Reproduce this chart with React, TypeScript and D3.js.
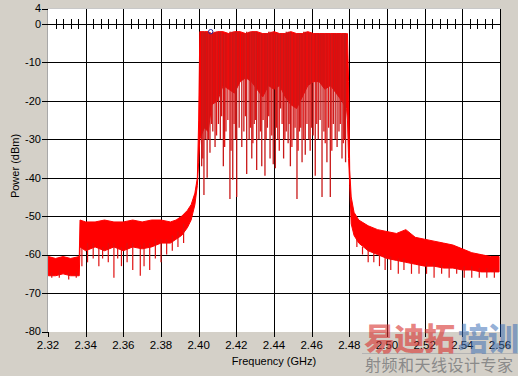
import React from "react";
import * as d3 from "d3";

const W = 518;
const H = 376;

const yTicks = [4, 0, -10, -20, -30, -40, -50, -60, -70, -80];
const xTicks = [2.32, 2.34, 2.36, 2.38, 2.4, 2.42, 2.44, 2.46, 2.48, 2.5, 2.52, 2.54, 2.56];
const xLabels = ["2.32", "2.34", "2.36", "2.38", "2.40", "2.42", "2.44", "2.46", "2.48", "2.50", "2.52", "2.54", "2.56"];
const hGrid = [0, -10, -20, -30, -40, -50, -60, -70];

// envelope of the spectrum (GHz, dBm)
const envFreq = [
  2.3202, 2.324, 2.328, 2.332, 2.3366, 2.337, 2.34, 2.345, 2.35, 2.355, 2.36, 2.365, 2.37, 2.375,
  2.38, 2.385, 2.388, 2.391, 2.394, 2.396, 2.398, 2.3993, 2.4, 2.4006, 2.403, 2.405, 2.407, 2.41,
  2.413, 2.416, 2.419, 2.422, 2.425, 2.428, 2.431, 2.434, 2.437, 2.44, 2.443, 2.446, 2.449, 2.452,
  2.455, 2.458, 2.461, 2.464, 2.467, 2.47, 2.473, 2.476, 2.4785, 2.479, 2.4796, 2.4802, 2.481,
  2.4825, 2.485, 2.49, 2.495, 2.5, 2.505, 2.51, 2.515, 2.52, 2.525, 2.53, 2.535, 2.54, 2.545,
  2.55, 2.555, 2.5595,
];
const envUpper = [
  -60.5, -61, -60.5, -61, -60.5, -51, -51.5, -51.5, -51, -51.5, -51.5, -51, -51.5, -51,
  -51, -51.5, -51, -50, -48.5, -47, -44, -40, -25, -2, -2, -2, -2.5, -2,
  -2, -2.5, -2, -2, -2.5, -2, -2, -2.5, -2.5, -2, -2.5, -2.5, -2, -2.5,
  -2.5, -2, -2.5, -2.5, -2.5, -2.5, -2.5, -2.5, -2.5, -2.5, -15, -38, -45,
  -49, -51, -52.5, -53.5, -54, -54.5, -53.5, -55.5, -56, -56.5, -57, -57.5, -58.5, -59.5,
  -60, -60.5, -60.5,
];
const envLower = [
  -65.5, -65.5, -65, -65.5, -65.5, -58, -59, -58, -59, -58, -59, -58, -58.5, -58,
  -57, -57, -56, -55, -53, -51, -47, -42, -36, -30, -27, -28, -21, -20,
  -16, -17, -18, -15, -14, -15, -17, -19, -16, -17, -16, -19, -21, -22,
  -19, -16, -15, -15, -17, -16, -18, -20, -22, -25, -35, -42, -52,
  -55, -57, -59, -60, -61, -61.5, -62, -62.5, -63, -63, -63.5, -63.5, -64, -64,
  -64.5, -64.5, -64.5,
];

// deep dips inside the channel (GHz, dBm)
const dipFreq = [
  2.4016, 2.4028, 2.4035, 2.4045, 2.406, 2.4075, 2.4087, 2.4105, 2.4115, 2.4131, 2.4145, 2.4166,
  2.4181, 2.4195, 2.4202, 2.4215, 2.4229, 2.424, 2.4255, 2.4268, 2.4282, 2.4295, 2.4308, 2.432,
  2.4335, 2.4352, 2.4365, 2.4379, 2.4396, 2.4407, 2.442, 2.4435, 2.4451, 2.4465, 2.4475, 2.4487,
  2.4505, 2.4522, 2.4535, 2.4549, 2.4566, 2.4585, 2.46, 2.4619, 2.4635, 2.4645, 2.4655, 2.4665,
  2.4681, 2.4699, 2.4715, 2.4725, 2.4735, 2.4745, 2.4761, 2.4775, 2.478,
];
const dipDb = [
  -37, -44.5, -30, -40, -33.5, -28, -32, -26, -30, -37, -28, -45.5,
  -40.5, -30, -45, -27, -32, -28, -39, -30, -35, -26, -38, -30,
  -37, -39.5, -27, -35, -36.5, -37.5, -30, -22, -35, -28, -31, -37,
  -30, -45.5, -28, -36, -34, -30, -27, -39.5, -30, -25, -45, -28,
  -36, -45, -26, -30, -32, -28, -35, -30, -36,
];

// shallower dips inside the channel (GHz, dBm)
const minorDipFreq = [
  2.4022, 2.4052, 2.4068, 2.4095, 2.4122, 2.4138, 2.4155, 2.4172, 2.4188, 2.4248, 2.4275, 2.4288,
  2.4302, 2.4328, 2.4342, 2.4358, 2.4372, 2.4388, 2.4413, 2.4428, 2.4443, 2.4458, 2.448, 2.4495,
  2.4512, 2.4528, 2.4542, 2.4558, 2.4575, 2.4592, 2.4608, 2.4627, 2.4672, 2.469, 2.4707, 2.4752,
  2.4768,
];
const minorDipDb = [
  -35, -30, -26, -29, -24, -32, -25, -33, -26, -24, -27, -31,
  -25, -28, -25, -30, -24, -29, -27, -33, -26, -30, -26, -32,
  -27, -33, -27, -30, -26, -33, -29, -26, -31, -27, -33, -26,
  -31,
];

// dips below the shoulders (GHz, dBm)
const shoulderDipFreq = [
  2.322, 2.326, 2.331, 2.335, 2.338, 2.341, 2.344, 2.347, 2.349, 2.352, 2.355, 2.357, 2.359,
  2.362, 2.365, 2.369, 2.371, 2.374, 2.377, 2.38, 2.383, 2.386, 2.389, 2.392,
  2.484, 2.487, 2.49, 2.493, 2.496, 2.499, 2.502, 2.506, 2.509, 2.513, 2.517, 2.521, 2.525,
  2.529, 2.533, 2.537, 2.541, 2.545, 2.549, 2.553, 2.557,
];
const shoulderDipDb = [
  -66, -66, -66.5, -66, -63, -62, -61, -63, -61, -62, -66, -61, -63,
  -62, -64, -65.5, -63, -64, -61, -62, -60, -59, -58, -57,
  -58, -60, -62, -62, -63, -64, -64, -65, -64, -65, -65, -65, -66,
  -65, -66, -65, -66, -66, -66, -66, -66,
];

const markerFreq = 2.4064;
const markerDb = -2;

const FONT = "'Liberation Sans', Arial, sans-serif";

export default function App() {
  const x = d3.scaleLinear().domain([2.32, 2.56]).range([48, 500]);
  const y = d3.scaleLinear().domain([4, -80]).range([8.6, 331.5]);
  const px = (v: number) => Math.round(x(v)) + 0.5;
  const py = (v: number) => Math.round(y(v)) + 0.5;

  const env = envFreq.map((f, i) => ({ f, hi: envUpper[i], lo: envLower[i] }));
  const area = d3
    .area<{ f: number; hi: number; lo: number }>()
    .x((d) => x(d.f))
    .y0((d) => y(d.lo))
    .y1((d) => y(d.hi));

  const bis = d3.bisector((d: number) => d).left;
  const upperAt = (f: number) => envUpper[Math.max(0, Math.min(envUpper.length - 1, bis(envFreq, f)))];
  const lowerAt = (f: number) => envLower[Math.max(0, Math.min(envLower.length - 1, bis(envFreq, f)))];

  const minorTicks = d3.range(0, 61).map((i) => 2.32 + i * 0.004).filter((_, i) => i % 5 !== 0);

  const left = 48;
  const right = 501;
  const top = y(4);
  const bottom = 332;

  return (
    <svg
      width={W}
      height={H}
      style={{ position: "absolute", left: 0, top: 0, display: "block" }}
      fontFamily={FONT}
    >
      <rect x={0} y={0} width={W} height={H} fill="#d4d0c8" />
      <rect x={left} y={top} width={right - left} height={bottom - top} fill="#ffffff" />
      <line x1={left - 0.5} x2={left - 0.5} y1={top} y2={bottom} stroke="#a8a8a8" />
      <line x1={left} x2={right} y1={Math.floor(top) + 0.5} y2={Math.floor(top) + 0.5} stroke="#c8c8c8" />

      <defs>
        <clipPath id="plotclip">
          <rect x={left} y={top} width={right - left} height={bottom - top} />
        </clipPath>
      </defs>

      {/* grid */}
      <g shapeRendering="crispEdges" stroke="#000" strokeWidth={1}>
        {hGrid.map((v) => (
          <line key={"h" + v} x1={left} x2={right} y1={py(v)} y2={py(v)} />
        ))}
        {xTicks.map((t, i) =>
          i === 0 ? (
            <line key={"v" + t} x1={px(t)} x2={px(t)} y1={bottom} y2={bottom + 5} />
          ) : (
            <line key={"v" + t} x1={px(t)} x2={px(t)} y1={top} y2={bottom + 5} />
          )
        )}
        {minorTicks.map((t) => (
          <line key={"m" + t} x1={px(t)} x2={px(t)} y1={y(0) - 4.5} y2={y(0) + 5} />
        ))}
        {yTicks.map((v) => (
          <line key={"yt" + v} x1={left - 6} x2={left} y1={py(v)} y2={py(v)} />
        ))}
      </g>

      {/* spectrum */}
      <g clipPath="url(#plotclip)">
        <path d={area(env) || ""} fill="#ff0000" stroke="#ff0000" strokeWidth={1} />
        {minorDipFreq.map((f, i) => (
          <line
            key={"md" + i}
            x1={x(f)}
            x2={x(f)}
            y1={y(upperAt(f))}
            y2={y(minorDipDb[i])}
            stroke="#e01414"
            strokeWidth={1.3}
          />
        ))}
        {dipFreq.map((f, i) => (
          <line
            key={"d" + i}
            x1={x(f)}
            x2={x(f)}
            y1={y(upperAt(f))}
            y2={y(dipDb[i])}
            stroke="#c81818"
            strokeWidth={1.3}
          />
        ))}
        {shoulderDipFreq.map((f, i) => (
          <line
            key={"s" + i}
            x1={x(f)}
            x2={x(f)}
            y1={y(lowerAt(f) + 1)}
            y2={y(shoulderDipDb[i])}
            stroke="#e01010"
            strokeWidth={1.2}
          />
        ))}
        <circle cx={x(markerFreq)} cy={y(markerDb)} r={2.2} fill="none" stroke="#3030a0" strokeWidth={1} />
      </g>

      {/* y labels */}
      {yTicks.map((v) => (
        <text key={"yl" + v} x={left - 7} y={y(v)} dy="0.35em" textAnchor="end" fontSize={11} fill="#000">
          {v}
        </text>
      ))}
      {/* x labels */}
      {xTicks.map((t, i) => (
        <text key={"xl" + t} x={x(t)} y={349} textAnchor="middle" fontSize={11.5} fill="#000">
          {xLabels[i]}
        </text>
      ))}

      <text x={274} y={365} textAnchor="middle" fontSize={11} fill="#000">
        Frequency (GHz)
      </text>
      <text
        transform={`translate(19, ${166}) rotate(-90)`}
        textAnchor="middle"
        fontSize={11}
        fill="#000"
      >
        Power (dBm)
      </text>

      {/* watermark */}
      <g fontFamily="'Noto Sans CJK SC', sans-serif">
        <line x1={362} x2={518} y1={353.5} y2={353.5} stroke="#b4b4b4" strokeWidth={1} />
        <text x={364} y={350} fontSize={31} fontWeight={900} fill="#d8302e" fillOpacity={0.6} letterSpacing={-1}>
          易迪拓
        </text>
        <text x={458} y={350} fontSize={31} fontWeight={900} fill="#3a6db5" fillOpacity={0.55} letterSpacing={-1}>
          培训
        </text>
        <text x={365} y={371} fontSize={16} fill="#8a8a8a" letterSpacing={0.5}>
          射频和天线设计专家
        </text>
      </g>
    </svg>
  );
}
